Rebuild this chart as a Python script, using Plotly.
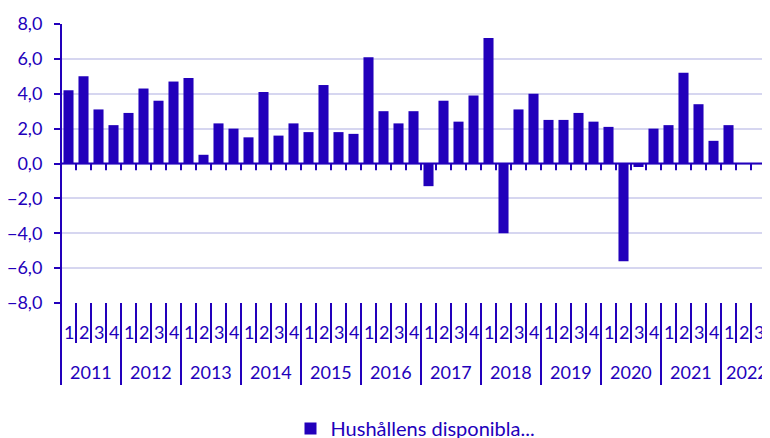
import plotly.graph_objects as go

# Quarterly change, percent
years = ["2011", "2012", "2013", "2014", "2015", "2016",
         "2017", "2018", "2019", "2020", "2021", "2022"]
quarters = ["1", "2", "3", "4"]
values = [
    4.2, 5.0, 3.1, 2.2,
    2.9, 4.3, 3.6, 4.7,
    4.9, 0.5, 2.3, 2.0,
    1.5, 4.1, 1.6, 2.3,
    1.8, 4.5, 1.8, 1.7,
    6.1, 3.0, 2.3, 3.0,
    -1.3, 3.6, 2.4, 3.9,
    7.2, -4.0, 3.1, 4.0,
    2.5, 2.5, 2.9, 2.4,
    2.1, -5.6, -0.2, 2.0,
    2.2, 5.2, 3.4, 1.3,
    2.2, None, None, None,
]
series_name = "Hushållens disponibla..."

BLUE = "#2200BB"
GRID = "#D6D6F0"
FONT = "Lato"

# page body has an 8px margin, so the figure is shrunk and shifted to fit the window
PAD = 8
W, H = 770 - PAD, 438 - PAD
TOP, BOTTOM, LEFT = 24 - PAD, 303 - PAD, 61 - PAD
plot_h = BOTTOM - TOP


def below(px):
    """window pixel row under the plot -> paper y"""
    return -((px - PAD) - BOTTOM) / plot_h


n = len(years) * len(quarters)
x = list(range(n))

fig = go.Figure()
fig.add_trace(go.Bar(
    x=x, y=values, name=series_name,
    marker=dict(color=BLUE, line=dict(width=0)),
    showlegend=True,
))

shapes = []
# x-axis line at zero with small ticks
shapes.append(dict(type="line", xref="paper", yref="y", x0=0, x1=1, y0=0, y1=0,
                   line=dict(color=BLUE, width=2)))
for i in range(n + 1):
    xb = i - 0.5
    shapes.append(dict(type="line", xref="x", yref="y", x0=xb, x1=xb, y0=0, y1=-0.38,
                       line=dict(color=BLUE, width=2)))
    low = 385 if i % 4 == 0 else 343
    shapes.append(dict(type="line", xref="x", yref="paper", x0=xb, x1=xb,
                       y0=0, y1=below(low), line=dict(color=BLUE, width=2)))
# left axis continues down through the label rows
shapes.append(dict(type="line", xref="paper", yref="paper", x0=0, x1=0,
                   y0=1, y1=below(385), line=dict(color=BLUE, width=2)))

annotations = []
for yi, yr in enumerate(years):
    for qi, q in enumerate(quarters):
        annotations.append(dict(x=yi * 4 + qi, y=below(332), xref="x", yref="paper",
                                text=q, showarrow=False, yanchor="middle",
                                font=dict(family=FONT, size=18, color=BLUE)))
    # last year sits at the cut edge, nudge it in a little
    shift = -4 if yi == len(years) - 1 else 0
    annotations.append(dict(x=yi * 4 + 1.5, y=below(372), xref="x", yref="paper",
                            text=yr, showarrow=False, yanchor="middle", xshift=shift,
                            font=dict(family=FONT, size=18, color=BLUE)))

fig.update_layout(
    width=W, height=H,
    margin=dict(l=LEFT, r=0, t=TOP, b=H - BOTTOM, autoexpand=False),
    plot_bgcolor="white", paper_bgcolor="white",
    separators=", ",
    bargap=0.33,
    font=dict(family=FONT, size=17, color=BLUE),
    shapes=shapes,
    annotations=annotations,
    showlegend=True,
    legend=dict(orientation="h", x=0.5, xanchor="center", y=below(409), yanchor="top",
                itemwidth=30, font=dict(family=FONT, size=20, color=BLUE)),
)
fig.update_xaxes(range=[-0.5, -0.5 + (W - LEFT) / 15], showticklabels=False,
                 showgrid=False, zeroline=False, showline=False, ticks="")
fig.update_yaxes(range=[-8, 8], dtick=2, tickformat=".1f",
                 showgrid=True, gridcolor=GRID, gridwidth=2,
                 zeroline=False, showline=False,
                 ticks="outside", ticklen=6, tickwidth=2, tickcolor=BLUE,
                 ticklabelstandoff=8,
                 tickfont=dict(family=FONT, size=18, color=BLUE))

fig.write_html("out.html")
